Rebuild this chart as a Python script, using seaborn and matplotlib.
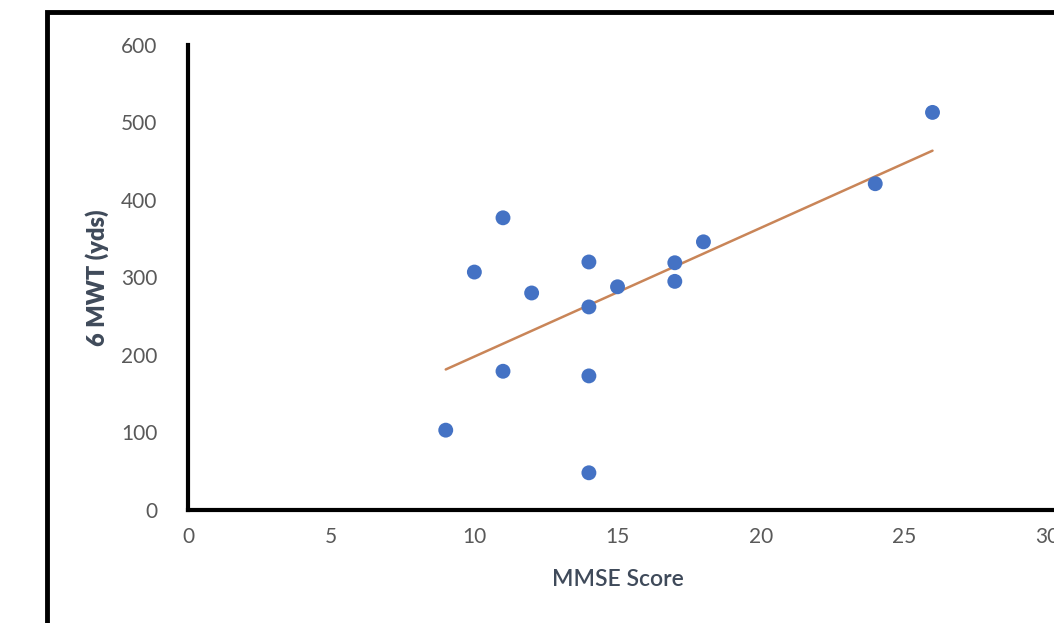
import numpy as np
import pandas as pd
import matplotlib.pyplot as plt
import seaborn as sns
from matplotlib.patches import Rectangle

### Dados
mmse = [9, 10, 11, 11, 12, 14, 14, 14, 14, 15, 17, 17, 18, 24, 26]
mwt = [103, 307, 377, 179, 280, 320, 262, 173, 48, 288, 319, 295, 346, 421, 513]

df = pd.DataFrame({'MMSE': mmse, 'MWT': mwt})

sns.set_style('white')
plt.rcParams['font.family'] = ['Lato', 'DejaVu Sans']

fig = plt.figure(figsize=(10.54, 6.23), dpi=100)
ax = fig.add_axes([0.1784, 0.1814, 0.8150, 0.7464])

# moldura externa
fig.patches.append(Rectangle((47 / 1054, -0.05), 1.2, 1 - 12 / 623 + 0.05,
                             transform=fig.transFigure, fill=False,
                             edgecolor='black', linewidth=3.5, zorder=0))

# pontos + linha de tendência
sns.scatterplot(data=df, x='MMSE', y='MWT', color='#4472C4', s=115,
                edgecolor='none', ax=ax, zorder=3)
sns.regplot(data=df, x='MMSE', y='MWT', scatter=False, ci=None,
            line_kws={'color': '#C98558', 'linewidth': 1.8}, ax=ax)

ax.set_xlim(0, 30)
ax.set_ylim(0, 600)
ax.set_xticks([0, 5, 10, 15, 20, 25, 30])
ax.set_yticks([0, 100, 200, 300, 400, 500, 600])
ax.tick_params(axis='both', length=0, labelsize=15, labelcolor='#595959')
ax.tick_params(axis='y', pad=22)
ax.tick_params(axis='x', pad=12)

for s in ['top', 'right']:
    ax.spines[s].set_visible(False)
for s in ['left', 'bottom']:
    ax.spines[s].set_color('black')
    ax.spines[s].set_linewidth(3)
ax.spines['bottom'].set_bounds(0, 30.2)

ax.set_xlabel('MMSE Score', fontsize=16.5, color='#3F4A5A', fontweight='semibold', labelpad=16)
ax.set_ylabel('6 MWT (yds)', fontsize=17, color='#3F4A5A', fontweight='heavy', labelpad=9)

plt.savefig('out.png', dpi=100)
